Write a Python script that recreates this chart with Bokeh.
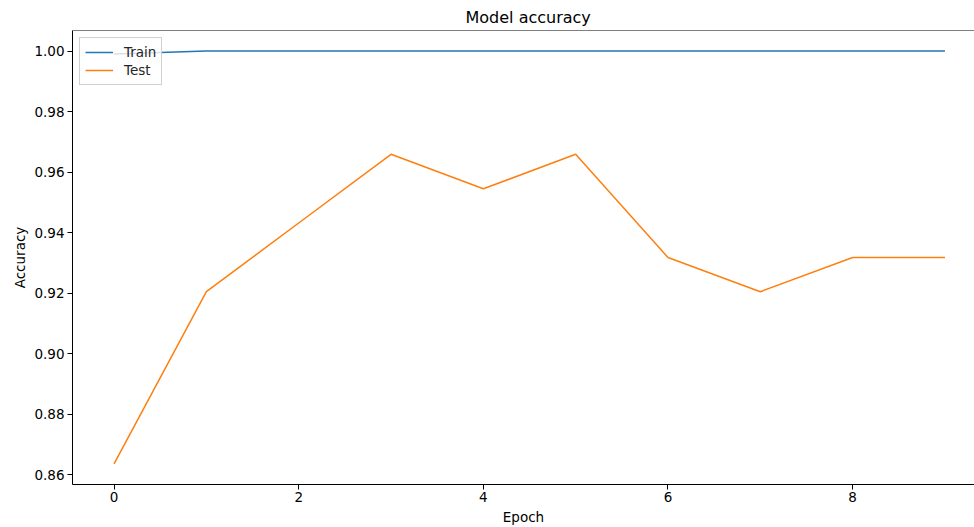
from bokeh.plotting import figure
from bokeh.models import Range1d, FixedTicker, NumeralTickFormatter, Span, Legend, LegendItem
from bokeh.embed import file_html
from bokeh.resources import INLINE

epochs = [0, 1, 2, 3, 4, 5, 6, 7, 8, 9]
train_acc = [0.9990, 1.0, 1.0, 1.0, 1.0, 1.0, 1.0, 1.0, 1.0, 1.0]
test_acc = [0.8636, 0.9205, 0.9432, 0.9659, 0.9545, 0.9659, 0.9318, 0.9205, 0.9318, 0.9318]
x_ticks = [0, 2, 4, 6, 8]
y_ticks = [0.86, 0.88, 0.90, 0.92, 0.94, 0.96, 0.98, 1.00]

FONT = "DejaVu Sans"

p = figure(width=974, height=527, output_backend="svg", toolbar_location=None,
           x_range=Range1d(-0.45, 9.32), y_range=Range1d(0.8568, 1.0068),
           min_border_left=72, min_border_right=0, min_border_top=30, min_border_bottom=43,
           title="Model accuracy")

p.title.align = "left"
p.title.text_font = FONT
p.title.text_font_size = "16px"
p.title.text_font_style = "normal"
p.title.text_color = "black"
p.title.offset = 393
p.title.standoff = 7

p.outline_line_color = None
p.xgrid.visible = False
p.ygrid.visible = False
p.background_fill_color = "white"
p.border_fill_color = "white"

r_train = p.line(epochs, train_acc, line_color="#1f77b4", line_width=1.5)
r_test = p.line(epochs, test_acc, line_color="#ff7f0e", line_width=1.5)

top = Span(location=1.0068, dimension="width", line_color="black", line_width=1)
p.add_layout(top)

for ax in (p.xaxis[0], p.yaxis[0]):
    ax.axis_line_color = "black"
    ax.axis_line_width = 1
    ax.major_tick_in = 0
    ax.major_tick_out = 5
    ax.major_tick_line_color = "black"
    ax.minor_tick_line_color = None
    ax.major_label_text_font = FONT
    ax.major_label_text_font_size = "13.5px"
    ax.major_label_text_color = "black"
    ax.axis_label_text_font = FONT
    ax.axis_label_text_font_size = "13.5px"
    ax.axis_label_text_font_style = "normal"
    ax.axis_label_text_color = "black"
    ax.major_label_standoff = 3
    ax.axis_label_standoff = 3

p.xaxis[0].major_label_standoff = 2
p.xaxis[0].axis_label_standoff = 4
p.xaxis[0].ticker = FixedTicker(ticks=x_ticks)
p.yaxis[0].ticker = FixedTicker(ticks=y_ticks)
p.yaxis[0].formatter = NumeralTickFormatter(format="0.00")
p.xaxis[0].axis_label = "Epoch"
p.yaxis[0].axis_label = "Accuracy"

legend = Legend(items=[LegendItem(label="Train", renderers=[r_train]),
                       LegendItem(label="Test", renderers=[r_test])],
                location="top_left")
legend.label_text_font = FONT
legend.label_text_font_size = "13.5px"
legend.label_text_color = "#262626"
legend.border_line_color = "#d0d0d0"
legend.border_line_alpha = 1
legend.background_fill_alpha = 0.8
legend.margin = 7
legend.padding = 5
legend.spacing = 0
legend.glyph_width = 28
legend.glyph_height = 18
legend.label_height = 18
legend.label_standoff = 11
p.add_layout(legend)

open("out.html", "w").write(file_html(p, INLINE))
